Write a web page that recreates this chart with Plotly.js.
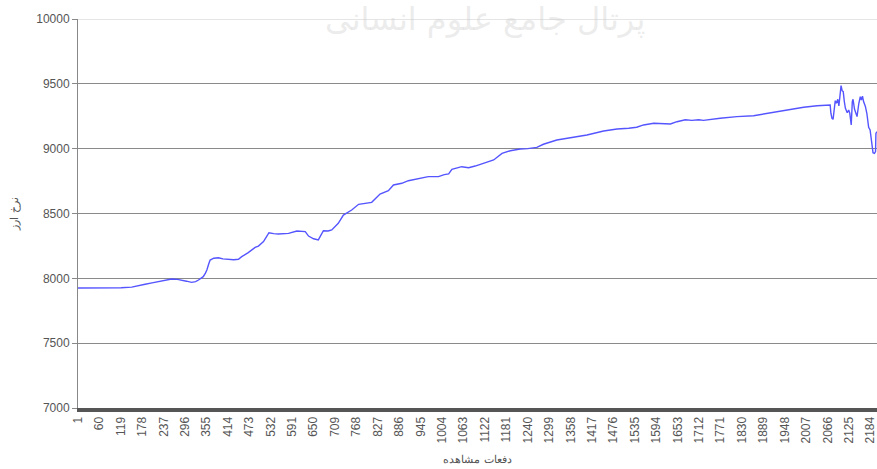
<!DOCTYPE html>
<html>
<head>
<meta charset="utf-8">
<script src="https://cdn.plot.ly/plotly-3.0.1.min.js"></script>
<style>html,body{margin:0;padding:0;background:#fff;}#chart{width:877px;height:469px;}</style>
</head>
<body>
<div id="chart"></div>
<script>
const obsIndex = [1,60,120,149,170,186,205,227,245,259,275,287,300,314,325,333,346,352,356,361,365,375,388,400,415,430,443,452,470,489,498,512,520,527,540,553,581,604,627,636,650,663,677,690,700,718,732,745,755,774,790,810,833,856,870,893,911,939,966,994,1010,1022,1031,1058,1077,1095,1118,1146,1169,1192,1219,1240,1265,1283,1320,1357,1403,1449,1486,1518,1540,1559,1587,1633,1651,1674,1692,1711,1724,1770,1816,1862,1908,1954,2000,2037,2073,2075,2078,2081,2084,2087,2090,2094,2097,2099,2103,2106,2109,2112,2115,2120,2124,2127,2131,2134,2136,2140,2142,2147,2152,2156,2159,2162,2165,2170,2174,2179,2183,2186,2189,2191,2195,2198,2199,2202];
const rateValues = [7925,7925,7927,7932,7942,7954,7965,7979,7990,7995,7992,7987,7978,7969,7975,7987,8013,8040,8064,8110,8141,8155,8159,8150,8147,8143,8147,8167,8198,8239,8249,8283,8320,8352,8345,8342,8347,8365,8360,8326,8305,8296,8367,8365,8373,8424,8488,8510,8527,8571,8578,8586,8650,8676,8720,8733,8753,8771,8784,8784,8800,8805,8841,8861,8853,8866,8887,8913,8964,8984,8997,9000,9010,9034,9067,9085,9105,9136,9152,9157,9165,9183,9196,9190,9208,9223,9218,9223,9218,9234,9247,9254,9277,9298,9319,9331,9337,9273,9234,9226,9326,9370,9350,9381,9329,9401,9486,9447,9440,9363,9311,9277,9298,9273,9183,9363,9381,9306,9285,9247,9350,9401,9375,9405,9363,9326,9273,9165,9144,9080,9003,8969,8964,8977,9118,9131];
const xTickLabels = ["1","60","119","178","237","296","355","414","473","532","591","650","709","768","827","886","945","1004","1063","1122","1181","1240","1299","1358","1417","1476","1535","1594","1653","1712","1771","1830","1889","1948","2007","2066","2125","2184"];
const yTicks = [7000,7500,8000,8500,9000,9500,10000];
const yTickLabels = ["7000","7500","8000","8500","9000","9500","10000"];
const xTitle = "دفعات مشاهده";
const yTitle = "نرخ ارز";
const watermark = "پرتال جامع علوم انسانی";

const trace = {
  x: obsIndex, y: rateValues, type: 'scatter', mode: 'lines',
  line: {color: 'rgb(85,85,255)', width: 1.4},
  hoverinfo: 'skip'
};

const layout = {
  width: 877, height: 469,
  margin: {l: 78, r: 0, t: 19, b: 61},
  paper_bgcolor: '#fff', plot_bgcolor: '#fff',
  showlegend: false,
  font: {family: 'Liberation Sans, Arial, sans-serif', size: 12, color: '#555'},
  xaxis: {
    type: 'linear', range: [1, 2202],
    tickmode: 'array', tickvals: xTickLabels.map(Number), ticktext: xTickLabels,
    tickangle: -90, ticks: '', showgrid: false, zeroline: false,
    ticklabeloverflow: 'allow',
    showline: true, linecolor: '#555', linewidth: 4,
    tickfont: {size: 12, color: '#555'},
    title: {text: xTitle, font: {size: 11, color: '#555'}, standoff: 14}
  },
  yaxis: {
    range: [7000, 10000], tickmode: 'array', tickvals: yTicks, ticktext: yTickLabels,
    ticks: 'outside', ticklen: 5, tickcolor: '#888',
    showgrid: true, gridcolor: '#8a8a8a', gridwidth: 1, zeroline: false,
    showline: true, linecolor: '#888', linewidth: 1,
    tickfont: {size: 12, color: '#555'},
    title: {text: yTitle, font: {size: 11, color: '#555'}, standoff: 15}
  },
  shapes: [{
    type: 'line', xref: 'paper', yref: 'y', x0: 0, x1: 1, y0: 10000, y1: 10000,
    line: {color: '#dcdcdc', width: 1.5}, layer: 'above'
  }],
  annotations: [{
    text: watermark, xref: 'paper', yref: 'paper', x: 0.51, y: 1.0,
    yanchor: 'middle', showarrow: false,
    font: {family: 'DejaVu Sans, sans-serif', size: 32, color: 'rgba(200,200,200,0.35)'}
  }]
};

Plotly.newPlot('chart', [trace], layout, {displayModeBar: false, staticPlot: true});
</script>
</body>
</html>
